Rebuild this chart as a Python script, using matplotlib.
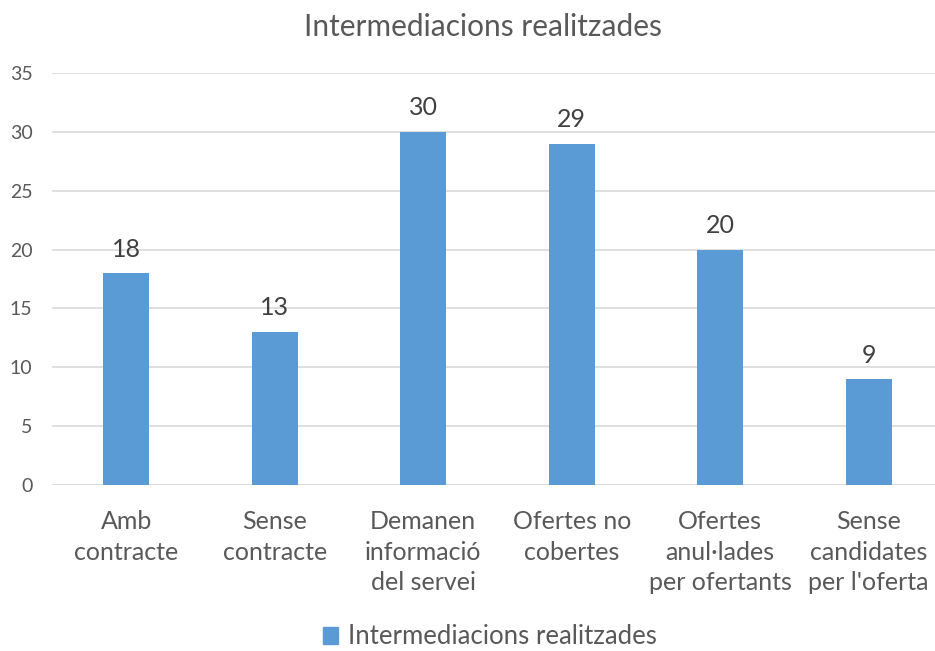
import matplotlib
matplotlib.use("Agg")
import matplotlib.pyplot as plt
from matplotlib.patches import Patch

categories = ["Amb\ncontracte", "Sense\ncontracte", "Demanen\ninformació\ndel servei",
              "Ofertes no\ncobertes", "Ofertes\nanul·lades\nper ofertants",
              "Sense\ncandidates\nper l'oferta"]
values = [18, 13, 30, 29, 20, 9]
series_name = "Intermediacions realitzades"
yticks = [0, 5, 10, 15, 20, 25, 30, 35]

plt.rcParams['font.family'] = ['Lato', 'DejaVu Sans']
text_color = "#595959"
bar_color = "#5B9BD5"
grid_color = "#D9D9D9"

fig = plt.figure(figsize=(9.35, 6.51), dpi=100)
W, H = 935, 651
ax = fig.add_axes([52 / W, 166 / H, 891 / W, 412 / H])

x = list(range(len(categories)))
bars = ax.bar(x, values, width=0.31, color=bar_color, zorder=3)
ax.set_xlim(-0.5, len(categories) - 0.5)
ax.set_ylim(0, 35)
ax.set_yticks(yticks)
ax.yaxis.grid(True, color=grid_color, linewidth=1.2, zorder=0)
for s in ax.spines.values():
    s.set_visible(False)
ax.axhline(0, color=grid_color, linewidth=1.2, zorder=1)
ax.tick_params(axis='y', length=0, labelsize=14, labelcolor=text_color, pad=14)
ax.tick_params(axis='x', length=0, labelsize=18, labelcolor=text_color, pad=18)
ax.set_xticks(x)
ax.set_xticklabels(categories, linespacing=1.4)

for xi, v in zip(x, values):
    ax.annotate(str(v), (xi, v), xytext=(0, 9), textcoords='offset points',
                ha='center', va='bottom', fontsize=18, color="#404040")

fig.text(483 / W, 1 - 27 / H, series_name, ha='center', va='center',
         fontsize=21.5, color=text_color)

fig.legend(handles=[Patch(color=bar_color, label=series_name)],
           loc='center', bbox_to_anchor=(490 / W, 1 - 637 / H), frameon=False,
           fontsize=18.5, labelcolor=text_color, handlelength=0.6, handleheight=0.6,
           handletextpad=0.4)

fig.savefig("out.png", dpi=100)
